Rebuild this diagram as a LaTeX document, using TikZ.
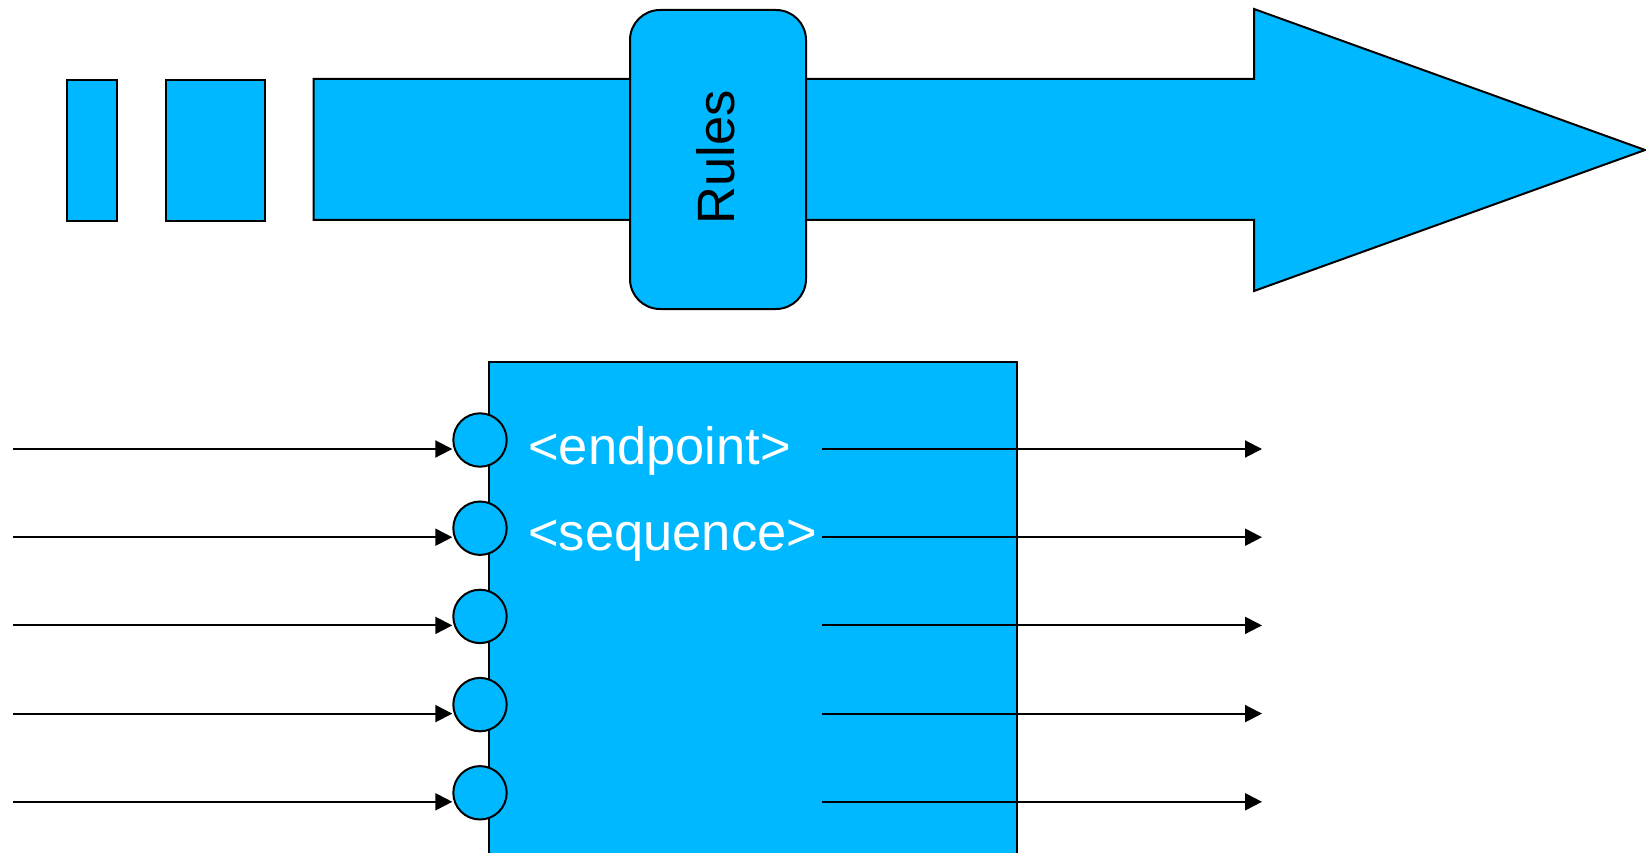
\documentclass[tikz,border=0pt]{standalone}
\usepackage{fontspec}
\setmainfont{Liberation Sans}
\usetikzlibrary{arrows.meta}
\definecolor{bluefill}{RGB}{0,184,255}
\tikzset{
  bluebox/.style={draw=black, line width=2pt, fill=bluefill},
  port/.style={bluebox, circle, minimum size=53.4pt, inner sep=0pt},
  flow/.style={line width=2pt, -{Triangle[length=17pt,width=17pt]}},
  lbl/.style={font=\fontsize{52.5}{62}\selectfont, inner sep=0pt}
}
\begin{document}
\begin{tikzpicture}[x=1pt,y=-1pt]
\useasboundingbox (0,0) rectangle (1646,853);
\fill[white] (0,0) rectangle (1646,853);
% top band
\node[bluebox, anchor=north west, minimum width=49.5pt, minimum height=141pt, inner sep=0pt] (b1) at (66,79) {};
\node[bluebox, anchor=north west, minimum width=99pt, minimum height=141pt, inner sep=0pt] (b2) at (164.7,79) {};
\draw[bluebox, line join=miter] (313.5,79) -- (1254,79) -- (1254,9) -- (1645,150) -- (1254,291) -- (1254,220) -- (313.5,220) -- cycle;
\node[bluebox, rounded corners=30pt, anchor=north west, minimum width=176pt, minimum height=299pt, inner sep=0pt] (rules) at (629,9) {};
\node[lbl, rotate=90] (rt) at (716,157) {Rules};
% big box
\node[bluebox, anchor=north west, minimum width=528pt, minimum height=520pt, inner sep=0pt] (box) at (488,361) {};
% ports and flows
\foreach \i/\yy in {1/440,2/528.2,3/616.4,4/704.6,5/792.8}{
  \node[port] (c\i) at (480,\yy) {};
  \coordinate (s\i) at (12.6,\yy+9);
  \coordinate (r\i) at (822,\yy+9);
  \coordinate (e\i) at (1262,\yy+9);
  \draw[flow] (s\i) -- (s\i -| c\i.west);
  \draw[flow] (r\i) -- (e\i);
}
\node[lbl, text=white, anchor=base west] (t1) at (528,464) {<endpoint>};
\node[lbl, text=white, anchor=base west] (t2) at (528,550) {<sequence>};
\end{tikzpicture}
\end{document}
